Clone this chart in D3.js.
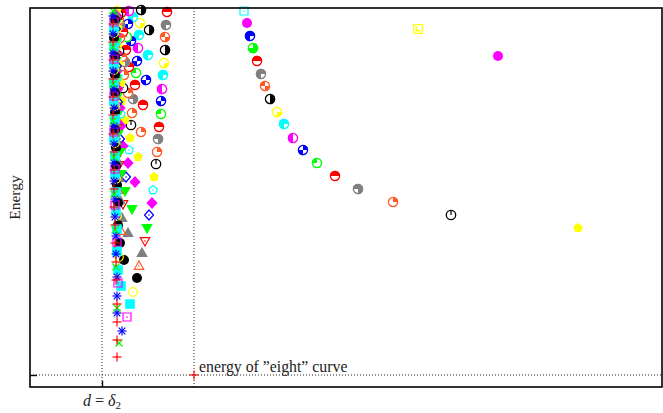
<!DOCTYPE html>
<html>
<head>
<meta charset="utf-8">
<script src="https://cdn.jsdelivr.net/npm/d3@7"></script>
<style>
  html, body { margin: 0; padding: 0; background: #fff; }
  svg { display: block; }
</style>
</head>
<body>
<svg id="chart" width="663" height="413"></svg>
<script>
// ---------------------------------------------------------------
// Energies of orbit families versus the parameter d.
// Each family lists its orbit indices k (kFrom, kStep) together with
// the d value and the energy E of every orbit.
// ---------------------------------------------------------------
const DELTA2 = 7.2;      // d = δ2
const EIGHT_D = 16.4;    // d of the figure-eight orbit
const EIGHT_E = 1.2;     // energy of the figure-eight orbit

const famA = { kFrom: 30, kStep: 2, d: [46.8, 38.8], E: [33.1, 35.8] };
const famB = { kFrom: 14, kStep: 1,
  d: [54.8, 42.1, 36.3, 32.8, 30.5, 28.7, 27.3, 26.3, 25.4, 24.7, 24.0, 23.5, 23.1, 22.7, 22.3, 22.0, 21.7, 21.4],
  E: [15.9, 17.2, 18.5, 19.8, 21.1, 22.4, 23.7, 24.9, 26.3, 27.5, 28.8, 30.1, 31.3, 32.6, 33.9, 35.1, 36.4, 37.6] };
const famC = { kFrom: 0, kStep: 1,
  d: [8.7, 8.9, 9.2, 9.7, 10.0, 10.3, 10.7, 10.9, 11.2, 11.5, 11.7, 11.9, 12.2, 12.3, 12.4, 12.6, 12.7, 12.8, 12.9, 13.1, 13.1, 13.2, 13.3, 13.4, 13.5, 13.5, 13.6, 13.7],
  E: [3.0, 4.4, 5.6, 7.0, 8.3, 9.5, 10.9, 12.1, 13.4, 14.6, 15.9, 17.2, 18.4, 19.7, 21.0, 22.3, 23.5, 24.8, 26.0, 27.3, 28.6, 29.8, 31.2, 32.4, 33.7, 35.0, 36.2, 37.5] };
const famD = { kFrom: 0, kStep: 2,
  d: [8.7, 8.7, 9.1, 9.4, 9.8, 10.2, 10.5, 10.8, 11.1, 11.3, 11.6, 11.8, 11.9],
  E: [4.7, 7.4, 10.1, 12.7, 15.4, 17.8, 20.5, 23.0, 25.5, 28.2, 30.7, 33.2, 35.7] };
const famE = { kFrom: 0, kStep: 1,
  d: [8.7, 8.7, 8.7, 8.8, 8.8, 8.9, 9.0, 9.1, 9.2, 9.3, 9.5, 9.6, 9.8, 9.9, 10.0, 10.1, 10.2, 10.3, 10.5, 10.6, 10.7, 10.8, 10.9, 11.0, 11.1],
  E: [6.5, 7.9, 9.1, 10.4, 11.7, 13.0, 14.4, 15.6, 16.9, 18.3, 19.6, 21.0, 22.4, 23.7, 24.9, 26.2, 27.4, 28.8, 30.2, 31.4, 32.6, 33.9, 35.2, 36.4, 37.7] };
const famF = { kFrom: 0, kStep: 2,
  d: [8.7, 8.7, 8.7, 8.8, 9.0, 9.1, 9.3, 9.5, 9.8, 9.9, 10.1, 10.3],
  E: [8.3, 11.0, 13.6, 16.2, 18.7, 21.3, 24.1, 26.7, 29.4, 32.0, 34.6, 37.0] };
const famG = { kFrom: 0, kStep: 1,
  d: [8.6, 8.6, 8.6, 8.7, 8.7, 8.7, 8.8, 8.8, 8.9, 8.9, 9.0, 9.0, 9.1, 9.1, 9.2, 9.3, 9.4, 9.5, 9.6, 9.7, 9.8, 9.9],
  E: [10.7, 12.0, 13.3, 14.5, 15.8, 17.1, 18.4, 19.7, 20.9, 22.2, 23.5, 24.8, 26.1, 27.3, 28.6, 29.9, 31.2, 32.5, 33.7, 35.0, 36.3, 37.6] };
const famH = { kFrom: 0, kStep: 2,
  d: [8.6, 8.6, 8.6, 8.7, 8.7, 8.8, 9.0, 9.1, 9.2, 9.3],
  E: [12.5, 15.1, 17.6, 20.2, 22.7, 25.3, 27.9, 30.4, 33.0, 35.5] };
const famI = { kFrom: 0, kStep: 1,
  d: [8.5, 8.5, 8.5, 8.5, 8.6, 8.6, 8.6, 8.6, 8.7, 8.7, 8.7, 8.8, 8.8, 8.8, 8.9, 8.9, 9.0, 9.0, 9.1],
  E: [14.4, 15.7, 17.0, 18.2, 19.5, 20.8, 22.1, 23.4, 24.6, 25.9, 27.2, 28.5, 29.8, 31.0, 32.3, 33.6, 34.9, 36.2, 37.4] };
const famJ = { kFrom: 0, kStep: 2,
  d: [8.5, 8.5, 8.5, 8.6, 8.6, 8.7, 8.7, 8.8, 8.9],
  E: [16.2, 18.8, 21.3, 23.9, 26.4, 29.0, 31.6, 34.1, 36.7] };
const famK = { kFrom: 0, kStep: 1,
  d: [8.4, 8.4, 8.4, 8.5, 8.5, 8.5, 8.5, 8.6, 8.6, 8.6, 8.6, 8.7, 8.7, 8.7, 8.8, 8.8],
  E: [18.0, 19.3, 20.6, 21.8, 23.1, 24.4, 25.7, 27.0, 28.2, 29.5, 30.8, 32.1, 33.4, 34.6, 35.9, 37.2] };
const famL = { kFrom: 0, kStep: 2,
  d: [8.4, 8.4, 8.4, 8.5, 8.5, 8.6, 8.6, 8.7],
  E: [19.8, 22.4, 24.9, 27.5, 30.0, 32.6, 35.2, 37.7] };
const famM = { kFrom: 0, kStep: 1,
  d: [8.4, 8.4, 8.4, 8.4, 8.5, 8.5, 8.5, 8.5, 8.6, 8.6, 8.6, 8.6, 8.7],
  E: [21.7, 23.0, 24.3, 25.5, 26.8, 28.1, 29.4, 30.7, 31.9, 33.2, 34.5, 35.8, 37.1] };
const famN = { kFrom: 0, kStep: 2,
  d: [8.4, 8.4, 8.4, 8.5, 8.5, 8.6],
  E: [23.5, 26.1, 28.6, 31.2, 33.7, 36.3] };
const famO = { kFrom: 0, kStep: 1,
  d: [8.3, 8.3, 8.4, 8.4, 8.4, 8.4, 8.5, 8.5, 8.5, 8.6],
  E: [25.3, 26.6, 27.9, 29.1, 30.4, 31.7, 33.0, 34.3, 35.5, 36.8] };
const famP = { kFrom: 0, kStep: 2, d: [8.3, 8.4, 8.4, 8.4, 8.5], E: [27.2, 29.8, 32.3, 34.9, 37.4] };
const famQ = { kFrom: 0, kStep: 1, d: [8.3, 8.3, 8.3, 8.4, 8.4, 8.4, 8.5], E: [29.0, 30.3, 31.6, 32.8, 34.1, 35.4, 36.7] };
const famR = { kFrom: 0, kStep: 2, d: [8.3, 8.3, 8.4], E: [30.8, 33.4, 35.9] };
const famS = { kFrom: 0, kStep: 1, d: [8.3, 8.3, 8.3, 8.4], E: [32.7, 34.0, 35.3, 36.5] };
const famT = { kFrom: 0, kStep: 2, d: [8.3, 8.3], E: [34.5, 37.1] };
const famU = { kFrom: 0, kStep: 1, d: [8.3, 8.3], E: [36.3, 37.6] };

const families = [famA, famB, famC, famD, famE, famF, famG, famH, famI, famJ, famK,
                  famL, famM, famN, famO, famP, famQ, famR, famS, famT, famU];

// ---------------------------------------------------------------
// Marker styles: colour cycles with k, shape is picked by k
// ---------------------------------------------------------------
const markerColors = ["#ff0000", "#00ff00", "#0000ff", "#ff00ff", "#00ffff",
                      "#ffff00", "#000000", "#ff5a24", "#808080"];
const markerShapes = ["plus", "cross", "star", "squareOpen", "square", "circleOpen", "circle",
  "triUpOpen", "triUp", "triDownOpen", "triDown", "diamondOpen", "diamond",
  "pentagonOpen", "pentagon", "clock",
  "pie", "pie", "pie", "pie", "pie", "pie", "pie", "pie", "pie", "pie", "pie", "pie", "pie", "pie",
  "circle", "squareOpen", "squareL"];
// filled wedges (degrees, clockwise from 12 o'clock) of the part-filled circles
const pieWedges = {
  16: [[0, 90]], 17: [[0, 180], [270, 360]], 18: [[270, 450]], 19: [[270, 360]],
  20: [[0, 90], [180, 270]], 21: [[180, 360]], 22: [[180, 450]], 23: [[90, 180]],
  24: [[0, 180]], 25: [[90, 180], [270, 360]], 26: [[180, 450]], 27: [[270, 450]],
  28: [[0, 270]], 29: [[180, 450]]
};

// ---------------------------------------------------------------
// Layout
// ---------------------------------------------------------------
const W = 663, H = 413;
const margin = { left: 30, right: 0, top: 8, bottom: 26 };
const svg = d3.select("#chart");

const x = d3.scaleLinear().domain([0, 63.3]).range([margin.left, W - margin.right]);
const y = d3.scaleLinear().domain([0, 37.9]).range([H - margin.bottom, margin.top]);

const serif = "'Liberation Serif', 'DejaVu Serif', serif";

// reference lines (dotted)
const guides = svg.append("g").attr("stroke", "#222").attr("stroke-width", 1)
  .attr("stroke-dasharray", "1,2").attr("fill", "none");
guides.append("line").attr("x1", x(DELTA2)).attr("x2", x(DELTA2))
  .attr("y1", y.range()[0]).attr("y2", y.range()[1]);
guides.append("line").attr("x1", x(EIGHT_D)).attr("x2", x(EIGHT_D))
  .attr("y1", y.range()[0]).attr("y2", y.range()[1]);
guides.append("line").attr("x1", x.range()[0]).attr("x2", x.range()[1])
  .attr("y1", y(EIGHT_E)).attr("y2", y(EIGHT_E));

// ---------------------------------------------------------------
// Markers
// ---------------------------------------------------------------
const R = 4.7;          // base marker radius
const RP = 5.2;         // radius of the part-filled circles
const arcGen = d3.arc().innerRadius(0).outerRadius(RP);
const rad = a => a * Math.PI / 180;

function polygon(n, r, rot) {
  const pts = [];
  for (let i = 0; i < n; i++) {
    const a = rot + i * 2 * Math.PI / n;
    pts.push([r * Math.sin(a), -r * Math.cos(a)]);
  }
  return "M" + pts.map(p => p.join(",")).join("L") + "Z";
}

function drawMarker(g, k) {
  const c = markerColors[k % markerColors.length];
  const shape = markerShapes[k];
  const sw = 1.2;
  const dot = () => g.append("circle").attr("r", 0.8).attr("fill", c);
  const line = (x1, y1, x2, y2) => g.append("line")
    .attr("x1", x1).attr("y1", y1).attr("x2", x2).attr("y2", y2)
    .attr("stroke", c).attr("stroke-width", sw);
  const path = (dd, filled) => g.append("path").attr("d", dd)
    .attr("fill", filled ? c : "none").attr("stroke", c).attr("stroke-width", sw)
    .attr("stroke-linejoin", "miter");
  const tri = [[0, -5], [4.7, 3.3], [-4.7, 3.3]];
  const triPath = flip => "M" + tri.map(p => [p[0], flip ? -p[1] : p[1]].join(",")).join("L") + "Z";
  switch (shape) {
    case "plus": line(-4.5, 0, 4.5, 0); line(0, -4.5, 0, 4.5); break;
    case "cross": line(-3.5, -3.5, 3.5, 3.5); line(-3.5, 3.5, 3.5, -3.5); break;
    case "star":
      line(-4.5, 0, 4.5, 0); line(0, -4.5, 0, 4.5);
      line(-3.3, -3.3, 3.3, 3.3); line(-3.3, 3.3, 3.3, -3.3); break;
    case "squareOpen": path("M-4,-4H4V4H-4Z", false); dot(); break;
    case "square": path("M-4.2,-4.2H4.2V4.2H-4.2Z", true); break;
    case "circleOpen": g.append("circle").attr("r", R - 0.4).attr("fill", "none")
      .attr("stroke", c).attr("stroke-width", sw); dot(); break;
    case "circle": g.append("circle").attr("r", R + 0.3).attr("fill", c); break;
    case "triUpOpen": path(triPath(false), false); dot(); break;
    case "triUp": path(triPath(false), true); break;
    case "triDownOpen": path(triPath(true), false); dot(); break;
    case "triDown": path(triPath(true), true); break;
    case "diamondOpen": path("M0,-5L4.5,0L0,5L-4.5,0Z", false); dot(); break;
    case "diamond": path("M0,-5.2L4.7,0L0,5.2L-4.7,0Z", true); break;
    case "pentagonOpen": path(polygon(5, 4.4, 0), false); dot(); break;
    case "pentagon": path(polygon(5, 4.2, 0), true); break;
    case "clock":
      g.append("circle").attr("r", RP - 0.5).attr("fill", "#fff")
        .attr("stroke", c).attr("stroke-width", 1.3);
      line(0, 0, 0, -(RP - 0.5)); break;
    case "pie":
      g.append("circle").attr("r", RP).attr("fill", "#fff");
      pieWedges[k].forEach(w => g.append("path")
        .attr("d", arcGen({ startAngle: rad(w[0]), endAngle: rad(w[1]) }))
        .attr("fill", c));
      g.append("circle").attr("r", RP - 0.6).attr("fill", "none")
        .attr("stroke", c).attr("stroke-width", 1.3); break;
    case "squareL":
      path("M-4.3,-4.3H4.3V4.3H-4.3Z", false);
      g.append("path").attr("d", "M-1.6,-2.2V1.8H2.4").attr("fill", "none")
        .attr("stroke", c).attr("stroke-width", 1.6); break;
  }
}

const markerLayer = svg.append("g");
families.forEach(fam => {
  fam.d.forEach((dv, i) => {
    const k = fam.kFrom + i * fam.kStep;
    const g = markerLayer.append("g")
      .attr("transform", `translate(${x(dv)},${y(fam.E[i])})`);
    drawMarker(g, k);
  });
});

// the figure-eight orbit
drawMarker(markerLayer.append("g")
  .attr("transform", `translate(${x(EIGHT_D)},${y(EIGHT_E)})`), 0);

// ---------------------------------------------------------------
// Frame, axes, labels
// ---------------------------------------------------------------
svg.append("rect")
  .attr("x", x.range()[0]).attr("y", y.range()[1])
  .attr("width", x.range()[1] - x.range()[0] - 1)
  .attr("height", y.range()[0] - y.range()[1])
  .attr("fill", "none").attr("stroke", "#000").attr("stroke-width", 1.6);

const xAxis = svg.append("g")
  .attr("transform", `translate(0,${y.range()[0]})`)
  .call(d3.axisBottom(x).tickValues([DELTA2]).tickSize(-6).tickFormat(""));
xAxis.select(".domain").remove();
xAxis.selectAll(".tick line").attr("stroke", "#000").attr("stroke-width", 1.4);

const yAxis = svg.append("g")
  .attr("transform", `translate(${x.range()[0]},0)`)
  .call(d3.axisLeft(y).tickValues([EIGHT_E]).tickSize(-7).tickFormat(""));
yAxis.select(".domain").remove();
yAxis.selectAll(".tick line").attr("stroke", "#000").attr("stroke-width", 1.4);

// tick label d = δ2
const dLabel = svg.append("text")
  .attr("x", x(DELTA2)).attr("y", H - 7)
  .attr("text-anchor", "middle")
  .attr("font-family", serif).attr("font-size", 16).attr("fill", "#222");
dLabel.append("tspan").attr("font-style", "italic").text("d");
dLabel.append("tspan").text(" = ");
dLabel.append("tspan").attr("font-style", "italic").text("δ");
dLabel.append("tspan").attr("font-size", 11).attr("dy", 3).text("2");

// figure-eight annotation
svg.append("text")
  .attr("x", x(EIGHT_D) + 5).attr("y", y(EIGHT_E) - 3)
  .attr("font-family", serif).attr("font-size", 15.8).attr("fill", "#222")
  .text("energy of \u201Deight\u201D curve");

// y axis title
svg.append("text")
  .attr("transform", `translate(20,${(y.range()[0] + y.range()[1]) / 2}) rotate(-90)`)
  .attr("text-anchor", "middle")
  .attr("font-family", serif).attr("font-size", 15.5).attr("fill", "#222")
  .text("Energy");
</script>
</body>
</html>
